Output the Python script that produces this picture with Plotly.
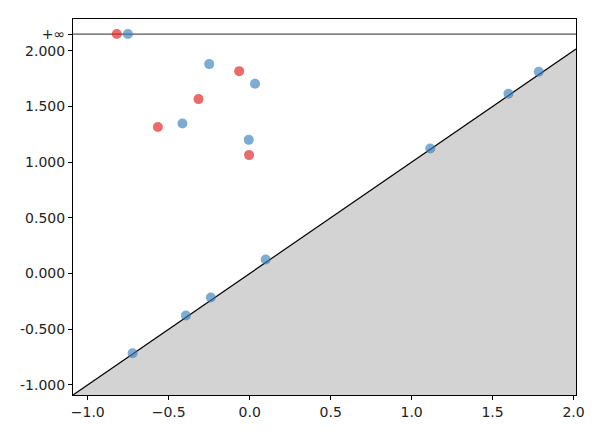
import numpy as np
import plotly.graph_objects as go

# persistence pairs (np.inf = never dies)
dim0_birth = [-0.821, -0.065, -0.316, -0.567, -0.004]
dim0_death = [np.inf, 1.817, 1.566, 1.315, 1.063]

dim1_birth = [-0.752, -0.250, 0.033, -0.415, -0.006, 0.099, -0.240, -0.394,
              -0.723, 1.115, 1.598, 1.785]
dim1_death = [np.inf, 1.880, 1.704, 1.347, 1.200, 0.125, -0.216, -0.378,
              -0.716, 1.122, 1.614, 1.811]

x_ticks = [-1.0, -0.5, 0.0, 0.5, 1.0, 1.5, 2.0]
y_ticks = [-1.0, -0.5, 0.0, 0.5, 1.0, 1.5, 2.0]

# axis limits the way gudhi computes them
births = dim0_birth + dim1_birth
deaths = [d for d in dim0_death + dim1_death if np.isfinite(d)]
min_birth, max_death = min(births), max(deaths)
delta = (max_death - min_birth) * 0.1
infinity = max_death + delta
axis_end = max_death + delta / 2
axis_start = min_birth - delta


def finite(vals):
    return [infinity if not np.isfinite(v) else v for v in vals]


fig = go.Figure()

# shaded area under the diagonal
fig.add_trace(go.Scatter(
    x=[axis_start, axis_end, axis_end, axis_start],
    y=[axis_start, axis_end, axis_start, axis_start],
    fill='toself', fillcolor='#d3d3d3', mode='lines',
    line=dict(width=0), hoverinfo='skip', showlegend=False
))
# diagonal
fig.add_trace(go.Scatter(
    x=[axis_start, axis_end], y=[axis_start, axis_end], mode='lines',
    line=dict(color='black', width=1.2), hoverinfo='skip', showlegend=False
))
# infinity line
fig.add_trace(go.Scatter(
    x=[axis_start, axis_end], y=[infinity, infinity], mode='lines',
    line=dict(color='#555555', width=1.2), hoverinfo='skip', showlegend=False
))

fig.add_trace(go.Scatter(
    x=dim1_birth, y=finite(dim1_death), mode='markers', name='1',
    marker=dict(color='rgba(55,126,184,0.65)', size=10, line=dict(width=0)),
    showlegend=False
))
fig.add_trace(go.Scatter(
    x=dim0_birth, y=finite(dim0_death), mode='markers', name='0',
    marker=dict(color='rgba(228,26,28,0.65)', size=10, line=dict(width=0)),
    showlegend=False
))

axis_style = dict(
    showline=True, linecolor='black', linewidth=1, mirror=True,
    ticks='outside', ticklen=4, tickcolor='black', tickwidth=1,
    showgrid=False, zeroline=False,
    tickfont=dict(family='DejaVu Sans', size=14, color='#222222')
)

fig.update_layout(
    width=596, height=444,
    margin=dict(l=65, r=28, t=11, b=57),
    plot_bgcolor='white', paper_bgcolor='white',
    xaxis=dict(range=[axis_start, axis_end], tickvals=x_ticks,
               ticktext=[f"{v:.1f}".replace('-', '\u2212') for v in x_ticks],
               **axis_style),
    yaxis=dict(range=[axis_start, infinity + delta / 2],
               tickvals=y_ticks + [infinity],
               ticktext=[f"{v:.3f}" for v in y_ticks] + ['+\u221e'],
               **axis_style),
)

fig.write_html("out.html")
